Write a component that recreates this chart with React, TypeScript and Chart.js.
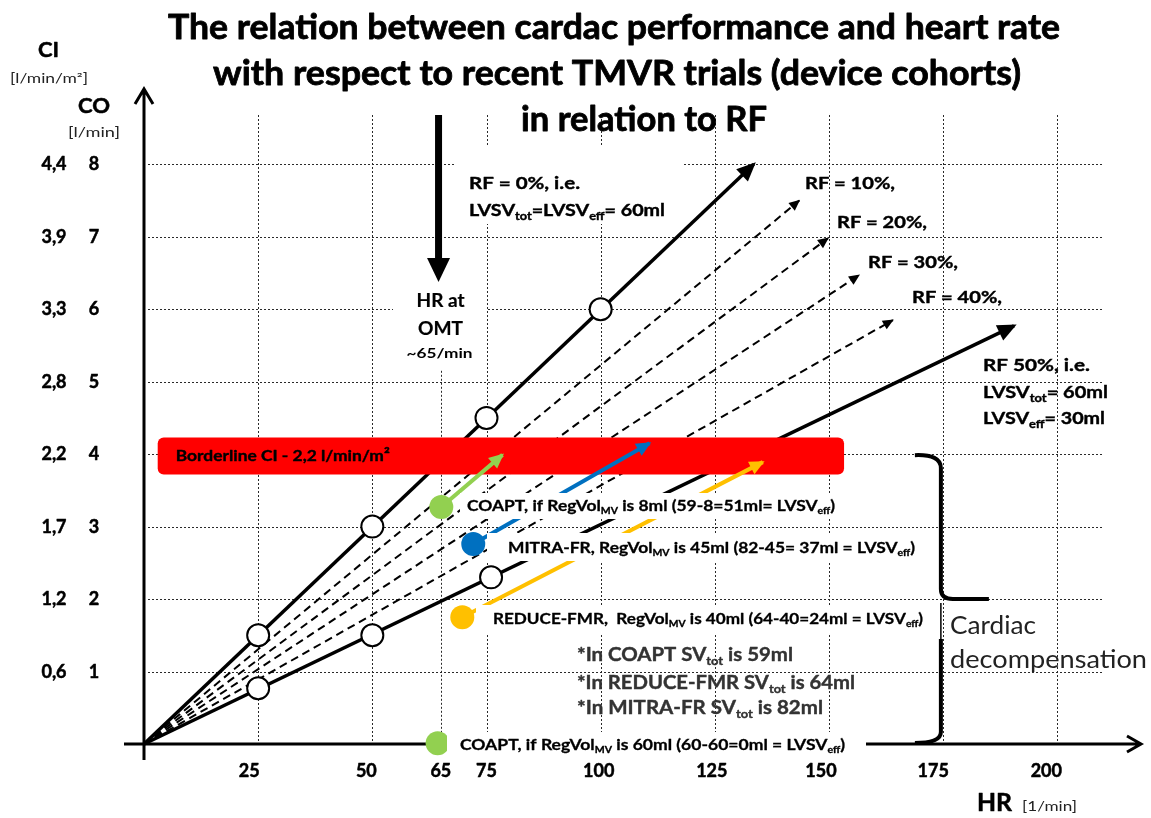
import { useEffect, useRef } from 'react';
import { Chart, registerables } from 'chart.js';

Chart.register(...registerables);

const FONT = 'Lato, "Open Sans", sans-serif';

// ---- axes / ticks ----
const hrGrid = [25, 50, 65, 75, 100, 125, 150, 175, 200];
const hrTickLabels = ['25', '50', '65', '75', '100', '125', '150', '175', '200'];
const coGrid = [1, 2, 3, 4, 5, 6, 7, 8];
const coTickLabels = ['1', '2', '3', '4', '5', '6', '7', '8'];
const ciTickLabels = ['0,6', '1,2', '1,7', '2,2', '2,8', '3,3', '3,9', '4,4'];

// ---- RF lines (from origin to arrow tip) ----
const rfNames = ['RF 0%', 'RF 10%', 'RF 20%', 'RF 30%', 'RF 40%', 'RF 50%'];
const rfEndHR = [133.5, 143.5, 149.8, 156.6, 164.0, 190.5];
const rfEndCO = [8.0, 7.5, 6.98, 6.47, 5.85, 5.77];

// ---- open circle markers ----
const rf0MarkHR = [25, 50, 75, 100];
const rf0MarkCO = [1.5, 3.0, 4.5, 6.0];
const rf50MarkHR = [25, 50, 76];
const rf50MarkCO = [0.77, 1.5, 2.3];

// ---- trial cohorts ----
const trialNames = ['COAPT (RegVol 8ml)', 'MITRA-FR', 'REDUCE-FMR', 'COAPT (RegVol 60ml)'];
const trialColors = ['#92d050', '#0070c0', '#ffc000', '#92d050'];
const trialHR = [65.1, 72.1, 69.7, 64.3];
const trialCO = [3.27, 2.76, 1.75, 0.01];
const trialTipHR = [78.5, 110.7, 135.5];
const trialTipCO = [3.99, 4.15, 3.89];

// ---- borderline CI band ----
const bandHR = [3.0, 153.3];
const bandCO = [3.72, 4.23];
const omtHR = 64.5;
const decompHR = 174.5;
const decompCO = [0, 2, 4];

type Part = [string, number?];

function rich(
  ctx: CanvasRenderingContext2D,
  parts: Part[] | string,
  x: number,
  y: number,
  size: number,
  o: { w?: number; bold?: boolean; color?: string; align?: 'left' | 'center'; heavy?: number } = {}
) {
  const ps: Part[] = typeof parts === 'string' ? [[parts, 0]] : parts;
  const weight = o.bold === false ? 'normal' : 'bold';
  const fontFor = (k: number) => `${weight} ${k === 1 ? Math.round(size * 0.62) : size}px ${FONT}`;
  let total = 0;
  const ws: number[] = [];
  ps.forEach(([t, k]) => {
    ctx.font = fontFor(k || 0);
    const w = ctx.measureText(t).width;
    ws.push(w);
    total += w;
  });
  const sx = o.w ? o.w / total : 1;
  const left = o.align === 'center' ? x - (total * sx) / 2 : x;
  ctx.save();
  ctx.translate(left, y);
  ctx.scale(sx, 1);
  ctx.fillStyle = o.color || '#000';
  ctx.strokeStyle = o.color || '#000';
  ctx.lineWidth = o.heavy || 0;
  ctx.lineJoin = 'round';
  ctx.textBaseline = 'alphabetic';
  ctx.textAlign = 'left';
  let cx = 0;
  ps.forEach(([t, k], i) => {
    ctx.font = fontFor(k || 0);
    const dy = k === 1 ? size * 0.22 : 0;
    ctx.fillText(t, cx, dy);
    if (o.heavy) ctx.strokeText(t, cx, dy);
    cx += ws[i];
  });
  ctx.restore();
}

function head(ctx: CanvasRenderingContext2D, x1: number, y1: number, x2: number, y2: number, len: number, hw: number, color: string, ext = 2) {
  const a = Math.atan2(y2 - y1, x2 - x1);
  const c = Math.cos(a), s = Math.sin(a);
  const tx = x2 + c * ext, ty = y2 + s * ext;
  ctx.beginPath();
  ctx.moveTo(tx, ty);
  ctx.lineTo(tx - len * c + hw * s, ty - len * s - hw * c);
  ctx.lineTo(tx - len * c - hw * s, ty - len * s + hw * c);
  ctx.closePath();
  ctx.fillStyle = color;
  ctx.fill();
}

const xLabelNudge = [-9, -6, 0, 0, -2, -3, -8, -10, -11];

const annotations = {
  id: 'annotations',
  beforeDatasetsDraw(chart: any) {
    const { ctx, chartArea } = chart;
    const x = chart.scales.x, y = chart.scales.y;
    chart.$barDone = false;
    const x0 = x.getPixelForValue(0), y0 = y.getPixelForValue(0);
    ctx.save();
    ctx.strokeStyle = '#2a2a2a';
    ctx.lineWidth = 1;
    ctx.setLineDash([2, 2]);
    hrGrid.forEach((v) => {
      const px = Math.round(x.getPixelForValue(v)) + 0.5;
      const top = v === 65 ? y.getPixelForValue(5.15) : chartArea.top;
      ctx.beginPath();
      ctx.moveTo(px, top);
      ctx.lineTo(px, y0);
      ctx.stroke();
    });
    coGrid.forEach((v) => {
      const py = Math.round(y.getPixelForValue(v)) + 0.5;
      ctx.beginPath();
      ctx.moveTo(x0 + 4, py);
      ctx.lineTo(chartArea.right, py);
      ctx.stroke();
    });
    ctx.setLineDash([]);
    // axes
    ctx.strokeStyle = '#000';
    ctx.lineWidth = 3;
    ctx.beginPath();
    ctx.moveTo(x0, y0 + 16);
    ctx.lineTo(x0, 89);
    ctx.moveTo(x0 - 9, 104);
    ctx.lineTo(x0, 89);
    ctx.lineTo(x0 + 9, 104);
    ctx.moveTo(x0 - 20, y0);
    ctx.lineTo(1141, y0);
    ctx.moveTo(1127, y0 - 8);
    ctx.lineTo(1141, y0);
    ctx.lineTo(1127, y0 + 8);
    ctx.stroke();
    ctx.restore();
  },
  beforeDatasetDraw(chart: any, args: any) {
    const ds = chart.data.datasets[args.index];
    if (ds.layer === 'top' && !chart.$barDone) {
      chart.$barDone = true;
      const { ctx } = chart;
      const x = chart.scales.x, y = chart.scales.y;
      const l = x.getPixelForValue(bandHR[0]), r = x.getPixelForValue(bandHR[1]);
      const t = y.getPixelForValue(bandCO[1]), b = y.getPixelForValue(bandCO[0]);
      ctx.save();
      ctx.fillStyle = '#ff0000';
      ctx.beginPath();
      (ctx as any).roundRect(l, t, r - l, b - t, 6);
      ctx.fill();
      rich(ctx, 'Borderline CI - 2,2 l/min/m²', l + 18, t + 24, 16, { w: 214, heavy: 0.4 });
      ctx.restore();
    }
  },
  afterDatasetsDraw(chart: any) {
    const { ctx } = chart;
    const x = chart.scales.x, y = chart.scales.y;
    const px = (v: number) => x.getPixelForValue(v);
    const py = (v: number) => y.getPixelForValue(v);
    ctx.save();
    // arrowheads of RF lines
    rfEndHR.forEach((hr, i) => {
      const big = i === 0 || i === 5;
      head(ctx, px(0), py(0), px(hr), py(rfEndCO[i]), big ? 19 : 11, big ? 8.5 : 5, '#000', big ? 3 : 1);
    });
    trialTipHR.forEach((hr, i) => {
      head(ctx, px(trialHR[i]), py(trialCO[i]), px(hr), py(trialTipCO[i]), 15, 7, trialColors[i], 2);
    });
    // white text boxes
    ctx.fillStyle = '#fff';
    const boxes = [
      [455, 146, 683, 224],
      [393, 285, 487, 366],
      [460, 493, 848, 519],
      [487, 533, 922, 561],
      [476, 605, 930, 633],
      [447, 732, 866, 757],
    ];
    boxes.forEach(([a, b, c, d]) => ctx.fillRect(a, b, c - a, d - b));

    // big down arrow (HR at OMT)
    const ax = px(omtHR);
    ctx.fillStyle = '#000';
    ctx.fillRect(ax - 3.5, 115, 7, 148);
    ctx.beginPath();
    ctx.moveTo(ax - 11.5, 258);
    ctx.lineTo(ax + 11.5, 258);
    ctx.lineTo(ax, 282);
    ctx.closePath();
    ctx.fill();

    // bracket
    const xb = px(decompHR);
    const yt = py(decompCO[2]), ym = py(decompCO[1]), yb = py(decompCO[0]);
    ctx.strokeStyle = '#000';
    ctx.lineWidth = 4;
    ctx.lineCap = 'butt';
    ctx.beginPath();
    ctx.moveTo(xb - 26, yt + 1);
    ctx.quadraticCurveTo(xb, yt, xb, yt + 14);
    ctx.lineTo(xb, ym - 10);
    ctx.quadraticCurveTo(xb, ym, xb + 12, ym);
    ctx.lineTo(xb + 48, ym);
    ctx.moveTo(xb, ym + 40);
    ctx.lineTo(xb, yb - 12);
    ctx.quadraticCurveTo(xb, yb - 1, xb - 26, yb - 1);
    ctx.stroke();
    ctx.lineWidth = 1.5;
    ctx.beginPath();
    ctx.moveTo(xb, ym + 4);
    ctx.lineTo(xb, ym + 40);
    ctx.stroke();

    // titles
    rich(ctx, 'The relation between cardac performance and heart rate', 168, 39, 34, { w: 892, heavy: 0.8 });
    rich(ctx, 'with respect to recent TMVR trials (device cohorts)', 213, 85, 34, { w: 808, heavy: 0.8 });
    rich(ctx, 'in relation to RF', 521, 131, 34, { w: 246, heavy: 0.8 });

    // axis titles
    rich(ctx, 'CI', 38, 57, 21, { w: 21, heavy: 0.5 });
    rich(ctx, '[l/min/m²]', 10, 83, 13, { bold: false, w: 78, color: '#222' });
    rich(ctx, 'CO', 78, 113, 21, { w: 32, heavy: 0.5 });
    rich(ctx, '[l/min]', 68, 137, 13, { bold: false, w: 52, color: '#222' });
    rich(ctx, 'HR', 977, 811, 24, { w: 35, heavy: 0.5 });
    rich(ctx, '[1/min]', 1022, 811, 13, { bold: false, w: 55, color: '#222' });

    // y tick labels
    coGrid.forEach((v, i) => {
      const yy = py(v) + 6;
      rich(ctx, ciTickLabels[i], 54, yy, 18, { align: 'center', heavy: 0.5 });
      rich(ctx, coTickLabels[i], 94, yy, 18, { align: 'center', heavy: 0.5 });
    });
    // x tick labels
    hrGrid.forEach((v, i) => {
      rich(ctx, hrTickLabels[i], px(v) + xLabelNudge[i], 777, 18, { align: 'center', heavy: 0.5 });
    });

    // RF labels
    const h = 0.4;
    rich(ctx, 'RF = 0%, i.e.', 469, 189, 17, { w: 111, heavy: h });
    rich(ctx, [['LVSV'], ['tot', 1], ['=LVSV'], ['eff', 1], ['= 60ml']], 469, 216, 17, { w: 196, heavy: h });
    rich(ctx, 'RF = 10%,', 805, 189, 17, { w: 90, heavy: h });
    rich(ctx, 'RF = 20%,', 837, 228, 17, { w: 90, heavy: h });
    rich(ctx, 'RF = 30%,', 868, 268, 17, { w: 90, heavy: h });
    rich(ctx, 'RF = 40%,', 912, 303, 17, { w: 90, heavy: h });
    rich(ctx, 'RF 50%, i.e.', 983, 371, 17, { w: 107, heavy: h });
    rich(ctx, [['LVSV'], ['tot', 1], ['= 60ml']], 983, 398, 17, { w: 125, heavy: h });
    rich(ctx, [['LVSV'], ['eff', 1], ['= 30ml']], 983, 424, 17, { w: 122, heavy: h });

    // HR at OMT
    rich(ctx, 'HR at', ax + 2, 307, 18, { align: 'center', w: 48, heavy: 0.2 });
    rich(ctx, 'OMT', ax + 2, 335, 18, { align: 'center', w: 45, heavy: 0.2 });
    rich(ctx, '~65/min', ax + 1, 358, 14, { align: 'center', w: 66 });

    // cohort labels
    rich(ctx, [['COAPT, if RegVol'], ['MV', 1], [' is 8ml (59-8=51ml= LVSV'], ['eff', 1], [')']], 467, 511, 15, { w: 368, heavy: 0.3 });
    rich(ctx, [['MITRA-FR, RegVol'], ['MV', 1], [' is 45ml (82-45= 37ml = LVSV'], ['eff', 1], [')']], 508, 553, 15, { w: 407, heavy: 0.3 });
    rich(ctx, [['REDUCE-FMR,  RegVol'], ['MV', 1], [' is 40ml (64-40=24ml = LVSV'], ['eff', 1], [')']], 493, 624, 15, { w: 430, heavy: 0.3 });
    rich(ctx, [['COAPT, if RegVol'], ['MV', 1], [' is 60ml (60-60=0ml = LVSV'], ['eff', 1], [')']], 460, 750, 15, { w: 385, heavy: 0.3 });

    // notes
    rich(ctx, [['*In COAPT SV'], ['tot', 1], [' is 59ml']], 577, 661, 19, { w: 216, color: '#333', heavy: 0.4 });
    rich(ctx, [['*In REDUCE-FMR SV'], ['tot', 1], [' is 64ml']], 577, 689, 19, { w: 278, color: '#333', heavy: 0.4 });
    rich(ctx, [['*In MITRA-FR SV'], ['tot', 1], [' is 82ml']], 577, 714, 19, { w: 246, color: '#333', heavy: 0.4 });

    rich(ctx, 'Cardiac', 950, 634, 25, { bold: false, w: 86, color: '#222' });
    rich(ctx, 'decompensation', 950, 668, 25, { bold: false, w: 197, color: '#222' });
    ctx.restore();
  },
};

export default function App() {
  const ref = useRef<HTMLCanvasElement>(null);
  useEffect(() => {
    if (!ref.current) return;
    const datasets: any[] = [];
    rfEndHR.forEach((hr, i) => {
      const big = i === 0 || i === 5;
      datasets.push({
        label: rfNames[i],
        data: [{ x: 0, y: 0 }, { x: hr, y: rfEndCO[i] }],
        showLine: true,
        borderColor: '#000',
        borderWidth: big ? 3.5 : 2,
        borderDash: big ? [] : [8, 5],
        pointRadius: 0,
        order: 10,
        clip: false,
      });
    });
    datasets.push({
      label: 'RF 0% marks',
      data: rf0MarkHR.map((h, i) => ({ x: h, y: rf0MarkCO[i] })),
      pointRadius: 11,
      pointBackgroundColor: '#fff',
      pointBorderColor: '#000',
      pointBorderWidth: 2,
      showLine: false,
      order: 9,
      clip: false,
    });
    datasets.push({
      label: 'RF 50% marks',
      data: rf50MarkHR.map((h, i) => ({ x: h, y: rf50MarkCO[i] })),
      pointRadius: 11,
      pointBackgroundColor: '#fff',
      pointBorderColor: '#000',
      pointBorderWidth: 2,
      showLine: false,
      order: 9,
      clip: false,
    });
    trialTipHR.forEach((hr, i) => {
      datasets.push({
        label: trialNames[i] + ' arrow',
        data: [{ x: trialHR[i], y: trialCO[i] }, { x: hr, y: trialTipCO[i] }],
        showLine: true,
        borderColor: trialColors[i],
        borderWidth: 4,
        pointRadius: 0,
        order: 4,
        layer: 'top',
        clip: false,
      });
    });
    datasets.push({
      label: 'Trials',
      data: trialHR.map((h, i) => ({ x: h, y: trialCO[i] })),
      pointRadius: 12,
      pointBackgroundColor: trialColors,
      pointBorderColor: trialColors,
      pointBorderWidth: 0,
      showLine: false,
      order: 3,
      layer: 'top',
      clip: false,
    });

    const chart = new Chart(ref.current, {
      type: 'scatter',
      data: { datasets },
      options: {
        animation: false,
        responsive: false,
        devicePixelRatio: 1,
        events: [],
        layout: { padding: { left: 144, top: 115, right: 48, bottom: 74 } },
        plugins: { legend: { display: false }, tooltip: { enabled: false }, title: { display: false } },
        scales: {
          x: { type: 'linear', min: 0, max: 210, display: false },
          y: { type: 'linear', min: 0, max: 8.68, display: false },
        },
      } as any,
      plugins: [annotations as any],
    });
    return () => chart.destroy();
  }, []);
  return (
    <div style={{ position: 'absolute', left: 0, top: 0, width: 1151, height: 818, background: '#fff' }}>
      <canvas ref={ref} width={1151} height={818} style={{ display: 'block' }} />
    </div>
  );
}
